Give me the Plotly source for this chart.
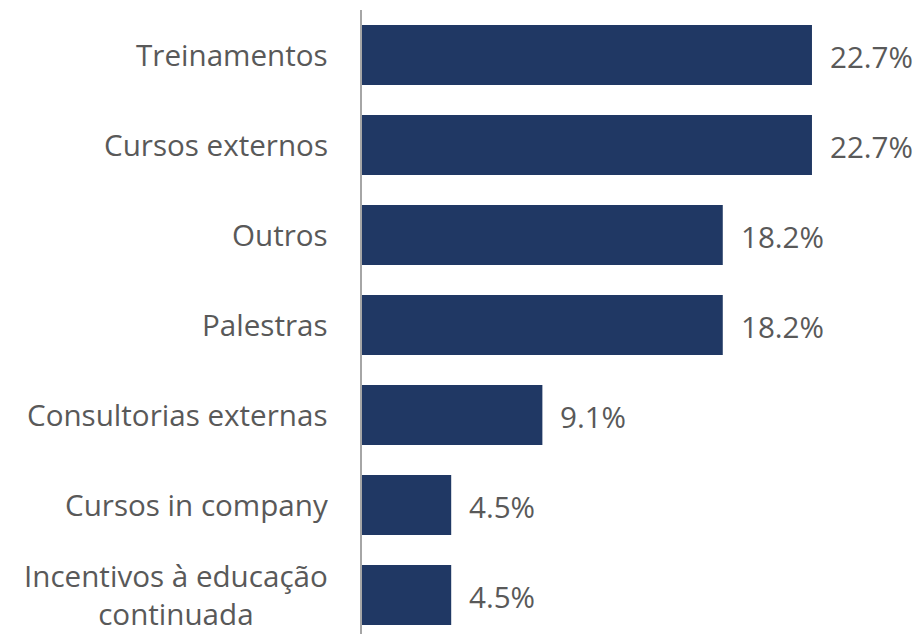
import plotly.graph_objects as go

categories = [
    "Treinamentos",
    "Cursos externos",
    "Outros",
    "Palestras",
    "Consultorias externas",
    "Cursos in company",
    "Incentivos à educação<br>continuada",
]
values = [22.7, 22.7, 18.2, 18.2, 9.1, 4.5, 4.5]
value_labels = ["22.7%", "22.7%", "18.2%", "18.2%", "9.1%", "4.5%", "4.5%"]

BAR_COLOR = "#203864"
TEXT_COLOR = "#595959"
FONT = "Open Sans"
FONT_SIZE = 29.6

fig = go.Figure(
    go.Bar(
        x=values,
        y=categories,
        orientation="h",
        marker=dict(color=BAR_COLOR, line=dict(width=0)),
        hoverinfo="skip",
    )
)

# category labels, centred line by line
for cat in categories:
    fig.add_annotation(
        x=0, xref="paper", y=cat, yref="y",
        text=cat, showarrow=False,
        xanchor="right", xshift=-32, yshift=1, align="center",
        font=dict(family=FONT, size=FONT_SIZE, color=TEXT_COLOR),
    )

# value labels to the right of each bar
for cat, v, lab in zip(categories, values, value_labels):
    fig.add_annotation(
        x=v, xref="x", y=cat, yref="y",
        text=lab, showarrow=False,
        xanchor="left", xshift=16, yshift=-1,
        font=dict(family=FONT, size=FONT_SIZE, color=TEXT_COLOR),
    )

fig.update_layout(
    width=920, height=634,
    margin=dict(l=362, r=0, t=10, b=0),
    paper_bgcolor="white", plot_bgcolor="white",
    bargap=1/3,
    showlegend=False,
    font=dict(family=FONT, size=FONT_SIZE, color=TEXT_COLOR),
)
fig.update_xaxes(range=[0, 28.15], visible=False, fixedrange=True)
fig.update_yaxes(
    type="category",
    categoryorder="array", categoryarray=categories,
    range=[6.433, -0.5],
    showticklabels=False, showgrid=False, zeroline=False,
    showline=True, linecolor="#A6A6A6", linewidth=2,
    ticks="",
)

fig.write_html("out.html")
